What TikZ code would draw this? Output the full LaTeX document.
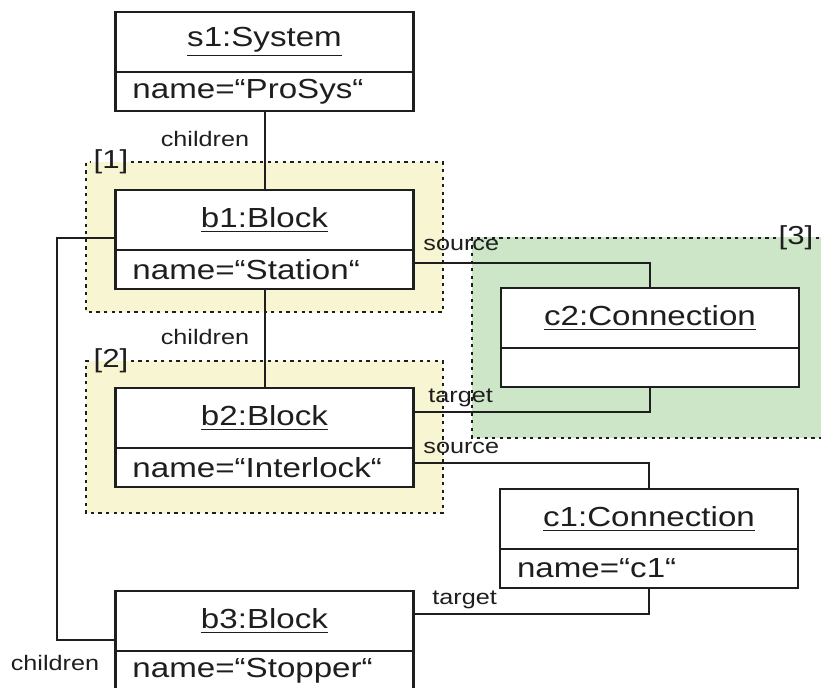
\documentclass[tikz,border=0pt]{standalone}
\usepackage{fontspec}
\setmainfont[FakeStretch=1.2]{Liberation Sans}
\definecolor{regyellow}{HTML}{F8F5D2}
\definecolor{reggreen}{HTML}{CEE6C8}
\definecolor{ink}{HTML}{1E1E1E}

\begin{document}
\begin{tikzpicture}[x=0.5pt,y=-0.5pt,
  obj/.style={draw=ink, line width=1.1pt, fill=white, minimum width=149pt,
    minimum height=30pt, inner sep=0pt, outer sep=0pt, text=ink,
    font=\fontsize{13.8}{16}\selectfont},
  attr/.style={obj, minimum height=19.5pt, text width=132pt, align=left},
  role/.style={text=ink, font=\fontsize{10.5}{12}\selectfont, inner sep=1pt},
  tag/.style={text=ink, font=\fontsize{13}{14}\selectfont, inner sep=1pt},
  link/.style={draw=ink, line width=1pt},
  fence/.style={draw=ink, line width=1.3pt, dash pattern=on 1.6pt off 2.2pt}]

\useasboundingbox (0,0) rectangle (821,687);
\clip (0,0) rectangle (821,687);

% regions
\fill[regyellow] (86,162) rectangle (443,312);
\fill[regyellow] (86,361) rectangle (443,513);
\fill[reggreen] (472,237) rectangle (840,438);

% objects
\node[obj, anchor=north west] (s1) at (115.5,12) {\underline{s1:System}};
\node[attr, anchor=north] (s1a) at (s1.south) {name=“ProSys“};

\node[obj, anchor=north west] (b1) at (115.5,190) {\underline{b1:Block}};
\node[attr, anchor=north] (b1a) at (b1.south) {name=“Station“};

\node[obj, anchor=north west] (b2) at (115.5,388) {\underline{b2:Block}};
\node[attr, anchor=north] (b2a) at (b2.south) {name=“Interlock“};

\node[obj, anchor=north west] (b3) at (115.5,591) {\underline{b3:Block}};
\node[attr, anchor=north] (b3a) at (b3.south) {name=“Stopper“};

\node[obj, anchor=north west] (c2) at (501,288) {\underline{c2:Connection}};
\node[attr, anchor=north] (c2a) at (c2.south) {};

\node[obj, anchor=north west] (c1) at (500,489) {\underline{c1:Connection}};
\node[attr, anchor=north] (c1a) at (c1.south) {name=“c1“};

% links
\draw[link] (s1a.south) -- (b1.north);
\draw[link] (b1a.south) -- (b2.north);
\draw[link] ([yshift=-9pt]b1.west) -- ++(-59,0) |- ([yshift=-9.5pt]b3.west);
\draw[link] ([yshift=3.5pt]b1a.east) -| (c2.north);
\draw[link] (c2a.south) |- ([yshift=3pt]b2.east);
\draw[link] ([yshift=2.5pt]b2a.east) -| (c1.north);
\draw[link] (c1a.south) |- ([yshift=3.5pt]b3.east);

% roles
\node[role] (lch1) at (205,139) {children};
\node[role] (lch2) at (205,337) {children};
\node[role] (lch3) at (55,663) {children};
\node[role, anchor=west] (lsrc1) at (421,245) {source};
\node[role, anchor=west] (ltgt1) at (426,398) {target};
\node[role, anchor=west] (lsrc2) at (421,448) {source};
\node[role, anchor=west] (ltgt2) at (430,600) {target};

% region borders
\node[tag] (t1) at (111,162) {[1]};
\node[tag] (t2) at (111,361) {[2]};
\node[tag] (t3) at (796,238) {[3]};
\draw[fence] (t1.east) -| (443,312) -| (86,162) -- (t1.west);
\draw[fence] (t2.east) -| (443,513) -| (86,361) -- (t2.west);
\draw[fence] (t3.west) -| (472,438) -- (840,438);
\draw[fence] (t3.east) -- (840,238);

\end{tikzpicture}
\end{document}
